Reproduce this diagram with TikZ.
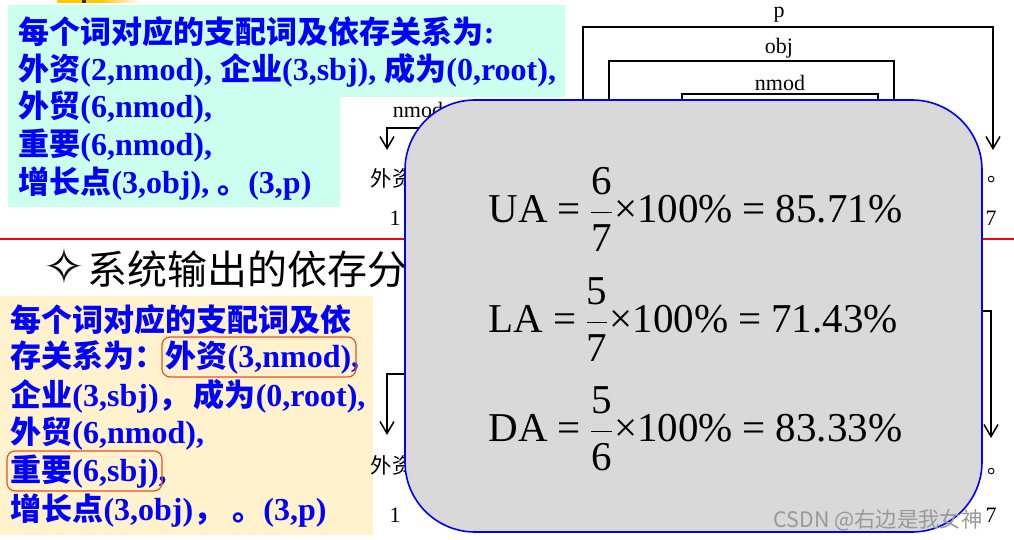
\documentclass[tikz,border=0pt]{standalone}
\usepackage{fontspec}
\usepackage{amsmath}
\setmainfont{Liberation Serif}
\newfontfamily\cjk[Scale=0.97]{Noto Sans CJK SC}
\newfontfamily\symb{DejaVu Sans}
\usetikzlibrary{arrows.meta, positioning}
\definecolor{cyanbg}{RGB}{204,255,238}
\definecolor{yellowbg}{RGB}{255,242,204}
\definecolor{greybg}{RGB}{217,217,217}
\definecolor{hilite}{RGB}{232,80,40}
\definecolor{barorange}{RGB}{255,200,0}

\begin{document}
\begin{tikzpicture}[x=0.5pt, y=-0.5pt,
    bluetxt/.style={anchor=west, inner sep=0pt, text=blue, font=\fontsize{16}{18}\selectfont\bfseries},
    arc/.style={line width=0.75pt, -{Straight Barb[length=6pt,width=7pt]}},
    treetxt/.style={inner sep=0pt, font=\fontsize{11}{13}\selectfont},
    treeword/.style={inner sep=0pt, font=\cjk\fontsize{11}{13}\selectfont},
    eqn/.style={anchor=base west, inner sep=0pt, font=\fontsize{20.5}{24}\selectfont},
    markbox/.style={draw=hilite, line width=0.6pt, rounded corners=4pt}]
\useasboundingbox (0,0) rectangle (1014,540);

% top bar of the slide
\fill[barorange] (57,0) rectangle (100,3);
\shade[left color=barorange, right color=white] (100,0) rectangle (140,3);
\fill[black!80] (82,0) rectangle (86,3);

% gold standard
\fill[cyanbg] (8,5) -- (565,5) -- (565,97) -- (340,97) -- (340,207) -- (8,207) -- cycle;
\node[bluetxt] (g1) at (18,32) {{\cjk 每个词对应的支配词及依存关系为}:};
\node[bluetxt] (g2) at (18,70) {{\cjk 外资}(2,nmod), {\cjk 企业}(3,sbj), {\cjk 成为}(0,root),};
\node[bluetxt] (g3) at (18,108) {{\cjk 外贸}(6,nmod),};
\node[bluetxt] (g4) at (18,146) {{\cjk 重要}(6,nmod),};
\node[bluetxt] (g5) at (18,184) {{\cjk 增长点}(3,obj), {\cjk 。}(3,p)};

% gold tree
\node[treetxt] (lbl-nmod1) at (418,110) {nmod};
\node[treetxt] (lbl-p) at (779,15) {p};
\node[treetxt] (lbl-obj) at (779,48) {obj};
\node[treetxt] (lbl-nmod2) at (780,83) {nmod};
\coordinate (h2) at (430,150);
\coordinate (w1) at (387,150);
\coordinate (h3p) at (583,150);
\coordinate (w7) at (993,150);
\coordinate (h3o) at (609,150);
\coordinate (w6o) at (894,150);
\coordinate (h6) at (682,150);
\coordinate (w4) at (878,150);
\draw[arc] (h2) -- ++(0,-22) -| (w1);
\draw[arc] (h3p) -- ++(0,-123) -| (w7);
\draw[arc] (h3o) -- ++(0,-89) -| (w6o);
\draw[arc] (h6) -- ++(0,-56) -| (w4);
\node[treeword] (wd1) at (392,178) {外资};
\node[treetxt] (n1) at (395,218) {1};
\node[treeword] (wd7) at (998,180) {。};
\node[treetxt] (n7) at (991,218) {7};

% separator
\draw[red, line width=1.2pt] (0,239) -- (1014,239);
\node[anchor=west, inner sep=0pt, font=\fontsize{20.6}{24}\selectfont] (title) at (43,268) {{\symb\fontsize{25}{28}\selectfont ✧}\hspace{1pt}{\cjk 系统输出的依存分}};

% system output
\fill[yellowbg] (0,296) rectangle (373,535);
\node[bluetxt] (s1) at (10,320) {{\cjk 每个词对应的支配词及依}};
\node[bluetxt] (s2) at (10,357) {{\cjk 存关系为：外资}(3,nmod),};
\node[bluetxt] (s3) at (10,396) {{\cjk 企业}(3,sbj){\cjk ，}\hspace{2pt}{\cjk 成为}(0,root),};
\node[bluetxt] (s4) at (10,434) {{\cjk 外贸}(6,nmod),};
\node[bluetxt] (s5) at (10,472) {{\cjk 重要}(6,sbj),};
\node[bluetxt] (s6) at (10,511) {{\cjk 增长点}(3,obj){\cjk ，} {\cjk 。}(3,p)};
\draw[markbox] (162,337) rectangle (356,377);
\draw[markbox] (7,451) rectangle (162,491);

% system tree
\coordinate (bh2) at (430,435);
\coordinate (bw1) at (387,435);
\coordinate (bh3) at (950,438);
\coordinate (bw7) at (991,438);
\draw[arc] (bh2) -- ++(0,-61) -| (bw1);
\draw[arc] (bh3) -- ++(0,-127) -| (bw7);
\node[treeword] (bwd1) at (392,465) {外资};
\node[treetxt] (bn1) at (395,515) {1};
\node[treeword] (bwd7) at (998,472) {。};
\node[treetxt] (bn7) at (991,515) {7};

% scores
\draw[blue, fill=greybg, line width=0.8pt, rounded corners=35pt] (405,100) rectangle (982,532);
\node[eqn] (ua) at (488,223) {$\displaystyle\text{UA\hspace{5pt}=\hspace{4pt}}\frac{\text{6}}{\text{7}}\text{×100\%\hspace{5pt}=\hspace{5pt}85.71\%}$};
\node[eqn] (la) at (488,333) {$\displaystyle\text{LA\hspace{5pt}=\hspace{4pt}}\frac{\text{5}}{\text{7}}\text{×100\%\hspace{5pt}=\hspace{5pt}71.43\%}$};
\node[eqn] (da) at (488,442) {$\displaystyle\text{DA\hspace{5pt}=\hspace{4pt}}\frac{\text{5}}{\text{6}}\text{×100\%\hspace{5pt}=\hspace{5pt}83.33\%}$};

\node[font=\cjk\fontsize{11}{13}\selectfont, text=black!40] (wm) at (878,520) {CSDN @右边是我女神};
\end{tikzpicture}
\end{document}
